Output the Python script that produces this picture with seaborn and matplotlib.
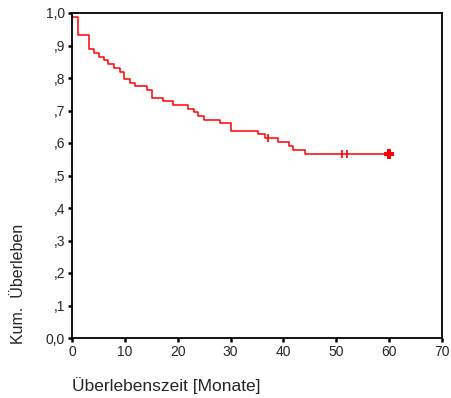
import matplotlib
matplotlib.use("Agg")
import matplotlib.pyplot as plt
import seaborn as sns
import pandas as pd

# Kaplan-Meier step data
times = [0.0, 1.1, 3.3, 4.2, 5.2, 6.0, 6.9, 7.9, 9.0, 9.9, 10.9, 12.0, 14.1, 15.1,
         17.2, 19.2, 22.0, 23.0, 23.9, 25.0, 28.0, 30.1, 35.2, 36.6, 38.9, 41.0,
         41.9, 44.1, 60.0]
survival = [0.989, 0.933, 0.888, 0.877, 0.866, 0.854, 0.843, 0.832, 0.820, 0.798,
            0.786, 0.775, 0.763, 0.740, 0.729, 0.718, 0.706, 0.695, 0.684, 0.672,
            0.661, 0.638, 0.627, 0.615, 0.604, 0.591, 0.580, 0.567, 0.567]
censor_times = [37.0, 51.0, 52.0]
censor_surv = [0.615, 0.567, 0.567]
final_censor_time = [60.0]
final_censor_surv = [0.567]

xticks = [0, 10, 20, 30, 40, 50, 60, 70]
yticks = [0.0, 0.1, 0.2, 0.3, 0.4, 0.5, 0.6, 0.7, 0.8, 0.9, 1.0]
ytick_labels = ["0,0", ",1", ",2", ",3", ",4", ",5", ",6", ",7", ",8", ",9", "1,0"]

sns.set_style("white")
plt.rcParams['font.family'] = ['Liberation Sans', 'DejaVu Sans']

fig = plt.figure(figsize=(4.51, 3.98), dpi=100)
ax = fig.add_axes([72/451, 1-338/398, 370/451, 325/398])

df = pd.DataFrame({"t": times, "s": survival})
sns.lineplot(data=df, x="t", y="s", drawstyle="steps-post", color="#ff0000",
             linewidth=1.1, ax=ax, estimator=None, sort=False)
sns.scatterplot(x=censor_times, y=censor_surv, marker="|", s=40, color="#ff0000",
                linewidth=1.2, ax=ax)
sns.scatterplot(x=final_censor_time, y=final_censor_surv, marker="P", s=45,
                color="#ff0000", linewidth=0, ax=ax)

ax.set_xlim(0, 70)
ax.set_ylim(0, 1.0)
ax.set_xticks(xticks)
ax.set_xticklabels([str(v) for v in xticks])
ax.set_yticks(yticks)
ax.set_yticklabels(ytick_labels)
ax.tick_params(axis="both", direction="out", length=3, width=1.8, labelsize=10,
               pad=2, color="black", bottom=True, left=True)
for sp in ax.spines.values():
    sp.set_visible(True)
    sp.set_color("black")
    sp.set_linewidth(1.3)
ax.set_xlabel("")
ax.set_ylabel("")

fig.text(19/451, 1-284/398, "Kum.  Überleben", rotation=90, ha="center", va="center",
         fontsize=11.5)
fig.text(72/451, 1-386/398, "Überlebenszeit [Monate]", ha="left", va="center",
         fontsize=12.5)

fig.savefig("out.png", dpi=100)
